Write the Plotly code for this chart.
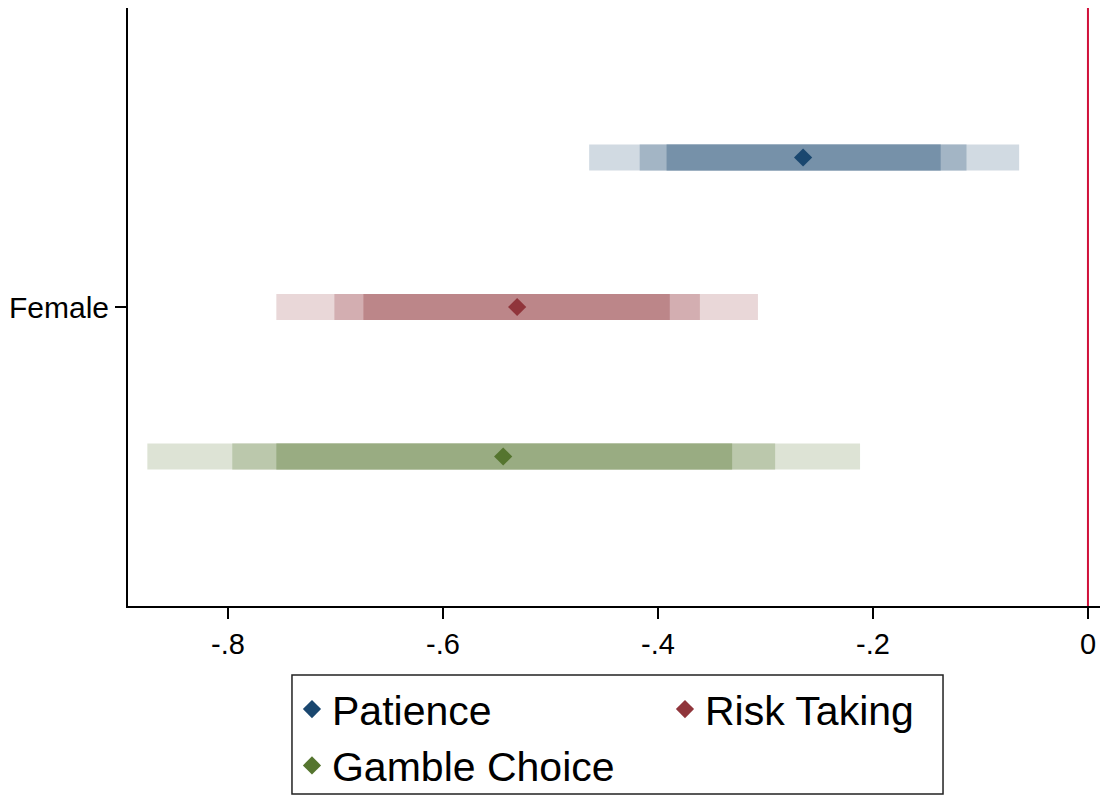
import plotly.graph_objects as go

# Coefficient estimates on Female with three confidence bands per outcome
outcomes = ["Patience", "Risk Taking", "Gamble Choice"]
rows = [1, 2, 3]
estimate = [-0.265, -0.531, -0.544]
ci_outer_lo = [-0.464, -0.755, -0.875]
ci_outer_hi = [-0.064, -0.307, -0.212]
ci_mid_lo = [-0.417, -0.701, -0.796]
ci_mid_hi = [-0.113, -0.361, -0.291]
ci_inner_lo = [-0.392, -0.674, -0.755]
ci_inner_hi = [-0.137, -0.389, -0.331]

x_tickvals = [-0.8, -0.6, -0.4, -0.2, 0]
x_ticktext = ["-.8", "-.6", "-.4", "-.2", "0"]

base_rgb = [(26, 71, 111), (144, 53, 59), (85, 117, 47)]


def tint(rgb, a):
    r, g, b = (round(255 - a * (255 - c)) for c in rgb)
    return f"rgb({r},{g},{b})"


FONT = "Liberation Sans, Arial, Helvetica, sans-serif"
bar_w = 0.173

fig = go.Figure()

for i, name in enumerate(outcomes):
    for lo, hi, a in [(ci_outer_lo, ci_outer_hi, 0.2),
                      (ci_mid_lo, ci_mid_hi, 0.4),
                      (ci_inner_lo, ci_inner_hi, 0.6)]:
        fig.add_trace(go.Bar(
            y=[rows[i]], x=[hi[i] - lo[i]], base=[lo[i]],
            orientation="h", width=bar_w,
            marker=dict(color=tint(base_rgb[i], a), line=dict(width=0)),
            showlegend=False, hoverinfo="skip",
        ))

for i, name in enumerate(outcomes):
    fig.add_trace(go.Scatter(
        x=[estimate[i]], y=[rows[i]], mode="markers", name=name,
        marker=dict(symbol="diamond", size=14,
                    color="rgb(%d,%d,%d)" % base_rgb[i]),
    ))

fig.add_vline(x=0, line=dict(color="#D0103A", width=2), layer="above")

# Frame around the legend
fig.add_shape(type="rect", xref="paper", yref="paper",
              x0=0.1687, x1=0.8385, y0=-0.3144, y1=-0.1154,
              line=dict(color="#222", width=1.5), fillcolor="rgba(0,0,0,0)")

fig.update_layout(
    width=1103, height=795,
    margin=dict(l=128, r=3, t=8, b=189, autoexpand=False),
    paper_bgcolor="white", plot_bgcolor="white",
    barmode="overlay",
    font=dict(family=FONT, color="black"),
    xaxis=dict(
        range=[-0.893, 0.0112], tickvals=x_tickvals, ticktext=x_ticktext,
        showgrid=False, zeroline=False, showline=True, linecolor="black",
        linewidth=2, ticks="outside", ticklen=11, tickwidth=1.5,
        tickcolor="black", tickfont=dict(size=29, family=FONT),
    ),
    yaxis=dict(
        range=[4, 0], tickvals=[2], ticktext=["Female"],
        showgrid=False, zeroline=False, showline=True, linecolor="black",
        linewidth=2, ticks="outside", ticklen=11, tickwidth=1.5,
        tickcolor="black", tickfont=dict(size=30, family=FONT),
    ),
    legend=dict(
        orientation="h", x=0.1687, xanchor="left", y=-0.117, yanchor="top",
        entrywidth=328, font=dict(size=41, family=FONT),
        borderwidth=0, bgcolor="rgba(0,0,0,0)",
        itemsizing="trace", tracegroupgap=0,
    ),
)

fig.write_html("out.html")
